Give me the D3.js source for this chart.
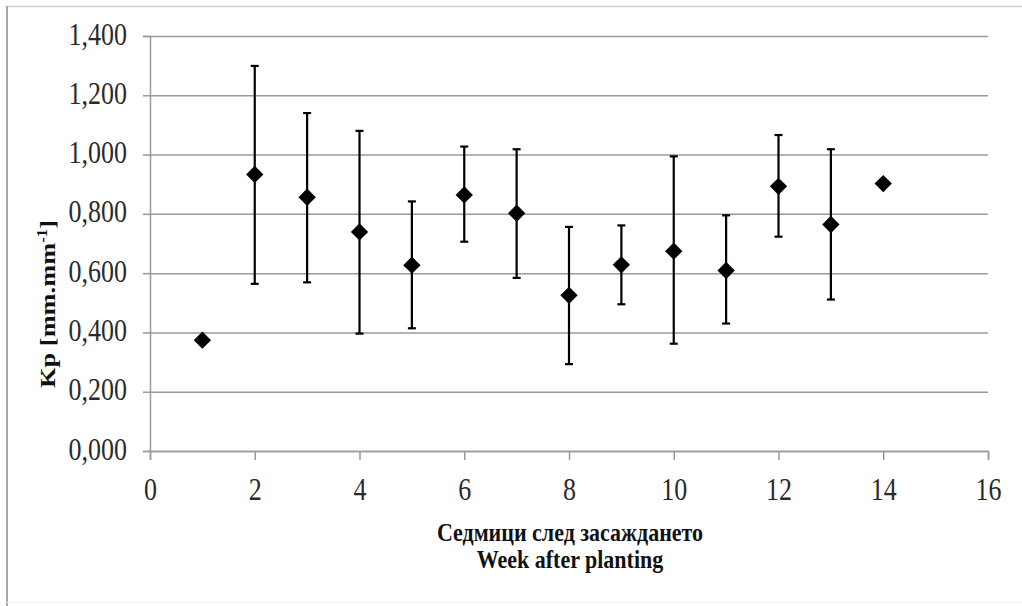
<!DOCTYPE html>
<html>
<head>
<meta charset="utf-8">
<script src="https://cdn.jsdelivr.net/npm/d3@7"></script>
<style>
  html, body { margin: 0; padding: 0; background: #fff; }
  svg { display: block; }
  text { font-family: "Liberation Serif", "Times New Roman", serif; }
</style>
</head>
<body>
<svg id="chart" width="1022" height="606"></svg>
<script>
// Weekly crop coefficient Kp with error bars
const weeks  = [1, 2, 3, 4, 5, 6, 7, 8, 9, 10, 11, 12, 13, 14];
const kpMean = [0.374, 0.933, 0.856, 0.739, 0.627, 0.864, 0.802, 0.525, 0.628, 0.674, 0.609, 0.893, 0.764, 0.902];
const kpHigh = [null, 1.299, 1.140, 1.080, 0.842, 1.027, 1.018, 0.756, 0.761, 0.994, 0.795, 1.066, 1.018, null];
const kpLow  = [null, 0.564, 0.569, 0.396, 0.414, 0.706, 0.584, 0.293, 0.495, 0.362, 0.430, 0.723, 0.511, null];
const xTicks = [0, 2, 4, 6, 8, 10, 12, 14, 16];
const yTicks = [0, 0.2, 0.4, 0.6, 0.8, 1.0, 1.2, 1.4];

(function () {
const svg = d3.select("#chart");
const W = 1022, H = 606;
const plotL = 150, plotR = 988, plotT = 36, plotB = 451;
const textStretch = 1.2;
const titleStretch = 1.15;

const x = d3.scaleLinear().domain([0, 16]).range([plotL, plotR]);
const y = d3.scaleLinear().domain([0, 1.4]).range([plotB, plotT]);

const locale = d3.formatLocale({ decimal: ",", thousands: " ", grouping: [3], currency: ["", ""] });
const fmtY = locale.format(".3f");

// outer frame
svg.append("rect").attr("x", 0).attr("y", 0).attr("width", W).attr("height", H).attr("fill", "#fff");
svg.append("line").attr("x1", 6).attr("x2", W).attr("y1", 6.5).attr("y2", 6.5)
  .attr("stroke", "#cfcfcf").attr("stroke-width", 1.5);
svg.append("line").attr("x1", 7).attr("x2", 7).attr("y1", 6).attr("y2", H)
  .attr("stroke", "#a8a8a8").attr("stroke-width", 2);
svg.append("line").attr("x1", 7).attr("x2", W).attr("y1", 602.5).attr("y2", 602.5)
  .attr("stroke", "#f2f2f2").attr("stroke-width", 1);

// y axis with gridlines
const yAxis = svg.append("g")
  .attr("transform", `translate(${plotL},0)`)
  .call(d3.axisLeft(y).tickValues(yTicks).tickSize(7).tickPadding(0).tickFormat(fmtY));
yAxis.select(".domain").attr("stroke", "#9a9a9a").attr("stroke-width", 1.5);
yAxis.selectAll(".tick line").attr("stroke", "#9a9a9a").attr("stroke-width", 1.5);
yAxis.selectAll(".tick").append("line")
  .attr("x1", 0).attr("x2", plotR - plotL)
  .attr("stroke", "#9a9a9a").attr("stroke-width", 1.5);
yAxis.selectAll(".tick text")
  .attr("x", null).attr("dy", null)
  .attr("transform", `translate(-23,8) scale(1,${textStretch})`)
  .attr("text-anchor", "end")
  .attr("font-size", 26).attr("fill", "#2a2a2a");

// x axis
const xAxis = svg.append("g")
  .attr("transform", `translate(0,${plotB})`)
  .call(d3.axisBottom(x).tickValues(xTicks).tickSize(9).tickPadding(0).tickFormat(d3.format("d")));
xAxis.select(".domain").attr("stroke", "#9a9a9a").attr("stroke-width", 1.5);
xAxis.selectAll(".tick line").attr("stroke", "#9a9a9a").attr("stroke-width", 1.5);
xAxis.selectAll(".tick text")
  .attr("y", null).attr("dy", null)
  .attr("transform", `translate(0,49) scale(1,${textStretch})`)
  .attr("text-anchor", "middle")
  .attr("font-size", 26).attr("fill", "#2a2a2a");

// axis titles
const yTitle = svg.append("text")
  .attr("transform", `translate(55,304) rotate(-90) scale(${textStretch},1)`)
  .attr("text-anchor", "middle")
  .attr("font-size", 22).attr("font-weight", "bold").attr("fill", "#111");
yTitle.append("tspan").text("Kp [mm.mm");
yTitle.append("tspan").attr("font-size", 14).attr("dy", -8).text("-1");
yTitle.append("tspan").attr("dy", 8).text("]");

svg.append("text")
  .attr("transform", `translate(570,541) scale(1,${titleStretch})`)
  .attr("text-anchor", "middle")
  .attr("font-size", 22).attr("font-weight", "bold").attr("fill", "#111")
  .text("Седмици след засаждането");
svg.append("text")
  .attr("transform", `translate(570,568) scale(1,${titleStretch})`)
  .attr("text-anchor", "middle")
  .attr("font-size", 22).attr("font-weight", "bold").attr("fill", "#111")
  .text("Week after planting");

// error bars
const rows = weeks.map((w, i) => ({ w, m: kpMean[i], hi: kpHigh[i], lo: kpLow[i] }));
const withErr = rows.filter(d => d.hi != null && d.lo != null);
const capHalf = 4;
const eb = svg.append("g").attr("stroke", "#000").attr("stroke-width", 2.2);
eb.selectAll("line.stem").data(withErr).join("line").attr("class", "stem")
  .attr("x1", d => x(d.w)).attr("x2", d => x(d.w))
  .attr("y1", d => y(d.hi)).attr("y2", d => y(d.lo));
eb.selectAll("line.capHi").data(withErr).join("line").attr("class", "capHi")
  .attr("x1", d => x(d.w) - capHalf).attr("x2", d => x(d.w) + capHalf)
  .attr("y1", d => y(d.hi)).attr("y2", d => y(d.hi));
eb.selectAll("line.capLo").data(withErr).join("line").attr("class", "capLo")
  .attr("x1", d => x(d.w) - capHalf).attr("x2", d => x(d.w) + capHalf)
  .attr("y1", d => y(d.lo)).attr("y2", d => y(d.lo));

// diamond markers
const diamond = d3.symbol(d3.symbolSquare, 150);
svg.append("g").selectAll("path").data(rows).join("path")
  .attr("d", diamond)
  .attr("transform", d => `translate(${x(d.w)},${y(d.m)}) rotate(45)`)
  .attr("fill", "#000");
})();
</script>
</body>
</html>
